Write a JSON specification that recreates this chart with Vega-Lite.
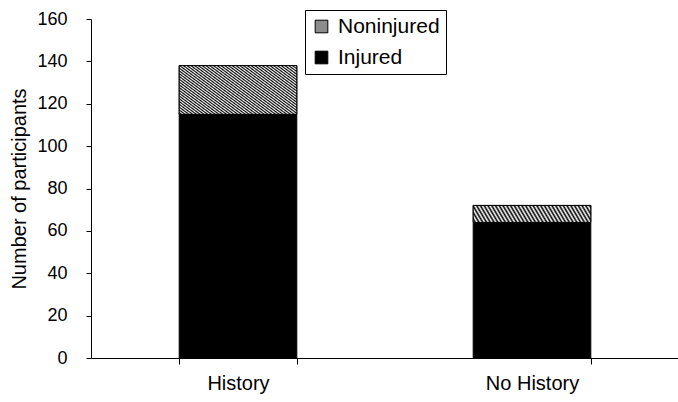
{
  "$schema": "https://vega.github.io/schema/vega-lite/v6.json",
  "autosize": "none",
  "width": 588,
  "height": 339,
  "padding": {"left": 91, "top": 19, "right": 0, "bottom": 44},
  "background": "white",
  "config": {
    "font": "Liberation Sans",
    "view": {"stroke": null},
    "axis": {"domainColor": "black", "tickColor": "black", "labelColor": "black", "titleColor": "black", "grid": false, "domainWidth": 1, "tickWidth": 1}
  },
  "data": {
    "values": [
      {"group": "History", "status": "Injured", "count": 115},
      {"group": "History", "status": "Noninjured", "count": 23},
      {"group": "No History", "status": "Injured", "count": 64},
      {"group": "No History", "status": "Noninjured", "count": 8}
    ]
  },
  "transform": [
    {"stack": "count", "groupby": ["group"], "as": ["y0", "y1"], "sort": [{"field": "status", "order": "ascending"}]}
  ],
  "encoding": {
    "x": {
      "field": "group", "type": "nominal",
      "scale": {"paddingInner": 0.6, "paddingOuter": 0.3},
      "axis": {"title": null, "labelAngle": 0, "labelFontSize": 20, "labelPadding": 9, "tickSize": 6, "tickBand": "extent"}
    },
    "y": {
      "field": "y1", "type": "quantitative",
      "scale": {"domain": [0, 160]},
      "axis": {"title": "Number of participants", "titleFontSize": 20, "titleFontWeight": "normal", "titlePadding": 7, "labelFontSize": 18, "labelPadding": 19, "tickSize": 5, "values": [0, 20, 40, 60, 80, 100, 120, 140, 160]}
    },
    "y2": {"field": "y0"}
  },
  "layer": [
    {
      "mark": {"type": "bar", "stroke": "black", "strokeWidth": 1},
      "encoding": {
        "fill": {
          "field": "status", "type": "nominal",
          "scale": {"domain": ["Noninjured", "Injured"], "range": ["#8c8c8c", "black"]},
          "legend": {
            "title": null, "orient": "none", "legendX": 214, "legendY": -9,
            "strokeColor": "black", "padding": 6, "symbolType": "square", "symbolSize": 160,
            "symbolStrokeColor": "black", "symbolStrokeWidth": 1, "symbolOpacity": 1,
            "labelFontSize": 21, "labelColor": "black", "labelOffset": 6, "rowPadding": 9, "fillColor": "white"
          }
        }
      }
    },
    {
      "transform": [{"filter": "datum.status === 'Noninjured'"}],
      "mark": {
        "type": "bar", "stroke": "black", "strokeWidth": 1,
        "fill": {"gradient": "linear", "x1": 0, "y1": 0, "x2": 1, "y2": 1, "stops": [
            {"offset": 0, "color": "#000"}, {"offset": 0.008, "color": "#fff"}, {"offset": 0.016, "color": "#000"}, {"offset": 0.024, "color": "#fff"}, {"offset": 0.032, "color": "#000"}, {"offset": 0.04, "color": "#fff"}, {"offset": 0.048, "color": "#000"}, {"offset": 0.056, "color": "#fff"}, {"offset": 0.064, "color": "#000"}, {"offset": 0.072, "color": "#fff"},
            {"offset": 0.08, "color": "#000"}, {"offset": 0.088, "color": "#fff"}, {"offset": 0.096, "color": "#000"}, {"offset": 0.104, "color": "#fff"}, {"offset": 0.112, "color": "#000"}, {"offset": 0.12, "color": "#fff"}, {"offset": 0.128, "color": "#000"}, {"offset": 0.136, "color": "#fff"}, {"offset": 0.144, "color": "#000"}, {"offset": 0.152, "color": "#fff"},
            {"offset": 0.16, "color": "#000"}, {"offset": 0.168, "color": "#fff"}, {"offset": 0.176, "color": "#000"}, {"offset": 0.184, "color": "#fff"}, {"offset": 0.192, "color": "#000"}, {"offset": 0.2, "color": "#fff"}, {"offset": 0.208, "color": "#000"}, {"offset": 0.216, "color": "#fff"}, {"offset": 0.224, "color": "#000"}, {"offset": 0.232, "color": "#fff"},
            {"offset": 0.24, "color": "#000"}, {"offset": 0.248, "color": "#fff"}, {"offset": 0.256, "color": "#000"}, {"offset": 0.264, "color": "#fff"}, {"offset": 0.272, "color": "#000"}, {"offset": 0.28, "color": "#fff"}, {"offset": 0.288, "color": "#000"}, {"offset": 0.296, "color": "#fff"}, {"offset": 0.304, "color": "#000"}, {"offset": 0.312, "color": "#fff"},
            {"offset": 0.32, "color": "#000"}, {"offset": 0.328, "color": "#fff"}, {"offset": 0.336, "color": "#000"}, {"offset": 0.344, "color": "#fff"}, {"offset": 0.352, "color": "#000"}, {"offset": 0.36, "color": "#fff"}, {"offset": 0.368, "color": "#000"}, {"offset": 0.376, "color": "#fff"}, {"offset": 0.384, "color": "#000"}, {"offset": 0.392, "color": "#fff"},
            {"offset": 0.4, "color": "#000"}, {"offset": 0.408, "color": "#fff"}, {"offset": 0.416, "color": "#000"}, {"offset": 0.424, "color": "#fff"}, {"offset": 0.432, "color": "#000"}, {"offset": 0.44, "color": "#fff"}, {"offset": 0.448, "color": "#000"}, {"offset": 0.456, "color": "#fff"}, {"offset": 0.464, "color": "#000"}, {"offset": 0.472, "color": "#fff"},
            {"offset": 0.48, "color": "#000"}, {"offset": 0.488, "color": "#fff"}, {"offset": 0.496, "color": "#000"}, {"offset": 0.504, "color": "#fff"}, {"offset": 0.512, "color": "#000"}, {"offset": 0.52, "color": "#fff"}, {"offset": 0.528, "color": "#000"}, {"offset": 0.536, "color": "#fff"}, {"offset": 0.544, "color": "#000"}, {"offset": 0.552, "color": "#fff"},
            {"offset": 0.56, "color": "#000"}, {"offset": 0.568, "color": "#fff"}, {"offset": 0.576, "color": "#000"}, {"offset": 0.584, "color": "#fff"}, {"offset": 0.592, "color": "#000"}, {"offset": 0.6, "color": "#fff"}, {"offset": 0.608, "color": "#000"}, {"offset": 0.616, "color": "#fff"}, {"offset": 0.624, "color": "#000"}, {"offset": 0.632, "color": "#fff"},
            {"offset": 0.64, "color": "#000"}, {"offset": 0.648, "color": "#fff"}, {"offset": 0.656, "color": "#000"}, {"offset": 0.664, "color": "#fff"}, {"offset": 0.672, "color": "#000"}, {"offset": 0.68, "color": "#fff"}, {"offset": 0.688, "color": "#000"}, {"offset": 0.696, "color": "#fff"}, {"offset": 0.704, "color": "#000"}, {"offset": 0.712, "color": "#fff"},
            {"offset": 0.72, "color": "#000"}, {"offset": 0.728, "color": "#fff"}, {"offset": 0.736, "color": "#000"}, {"offset": 0.744, "color": "#fff"}, {"offset": 0.752, "color": "#000"}, {"offset": 0.76, "color": "#fff"}, {"offset": 0.768, "color": "#000"}, {"offset": 0.776, "color": "#fff"}, {"offset": 0.784, "color": "#000"}, {"offset": 0.792, "color": "#fff"},
            {"offset": 0.8, "color": "#000"}, {"offset": 0.808, "color": "#fff"}, {"offset": 0.816, "color": "#000"}, {"offset": 0.824, "color": "#fff"}, {"offset": 0.832, "color": "#000"}, {"offset": 0.84, "color": "#fff"}, {"offset": 0.848, "color": "#000"}, {"offset": 0.856, "color": "#fff"}, {"offset": 0.864, "color": "#000"}, {"offset": 0.872, "color": "#fff"},
            {"offset": 0.88, "color": "#000"}, {"offset": 0.888, "color": "#fff"}, {"offset": 0.896, "color": "#000"}, {"offset": 0.904, "color": "#fff"}, {"offset": 0.912, "color": "#000"}, {"offset": 0.92, "color": "#fff"}, {"offset": 0.928, "color": "#000"}, {"offset": 0.936, "color": "#fff"}, {"offset": 0.944, "color": "#000"}, {"offset": 0.952, "color": "#fff"},
            {"offset": 0.96, "color": "#000"}, {"offset": 0.968, "color": "#fff"}, {"offset": 0.976, "color": "#000"}, {"offset": 0.984, "color": "#fff"}, {"offset": 0.992, "color": "#000"}, {"offset": 1, "color": "#fff"}
        ]}
      }
    }
  ]
}
